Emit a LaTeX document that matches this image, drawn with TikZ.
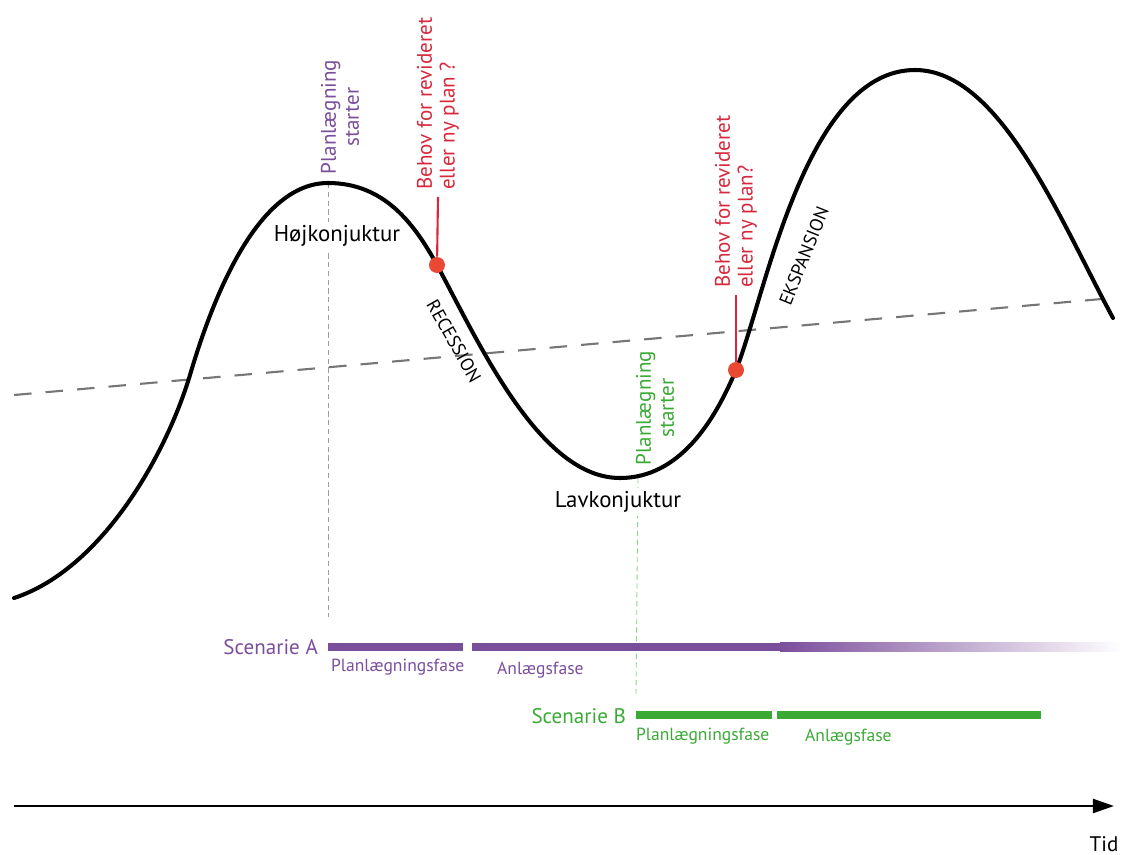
\documentclass[tikz,border=0pt]{standalone}
\usepackage{fontspec}
\setmainfont{PT Sans}
\usetikzlibrary{arrows.meta,positioning}
\definecolor{lilla}{RGB}{123,78,156}
\definecolor{groen}{RGB}{58,170,53}
\definecolor{roed}{RGB}{215,40,60}
\definecolor{prik}{RGB}{232,72,52}
\definecolor{graa}{RGB}{118,118,118}

\begin{document}
\begin{tikzpicture}[
    x=0.02cm, y=-0.02cm,
    every node/.style={font=\fontsize{12}{14}\selectfont, inner sep=1pt},
    fase/.style={font=\fontsize{10}{12}\selectfont},
    konj/.style={font=\fontsize{13}{15}\selectfont, fill=white, inner sep=2pt},
    lodret/.style={rotate=90, align=center, font=\fontsize{12}{13}\selectfont},
    behov/.style={rotate=90, align=left, anchor=west, text=roed, font=\fontsize{12}{13}\selectfont},
    skraa/.style={font=\fontsize{10.5}{12}\selectfont},
    dot/.style={circle, fill=prik, minimum size=0.32cm, inner sep=0pt},
    barA/.style={lilla, line width=4.6pt},
    barB/.style={groen, line width=4.6pt},
    hjaelp/.style={dash pattern=on 3pt off 2pt, line width=0.5pt}
]
\useasboundingbox (0,0) rectangle (1127,855);

% trend
\draw[graa, line width=1.2pt, dash pattern=on 10pt off 8pt] (14,395) -- (1113,298);

% lodrette hjaelpelinjer
\coordinate (startA) at (328,647);
\coordinate (startB) at (636,715);
\draw[hjaelp, lilla!40!gray!70] (328,183) -- ([yshift=0.6cm]startA);
\draw[hjaelp, groen!55] (638,478) -- ([yshift=0.35cm]startB);

% konjunkturkurve
\draw[line width=2.3pt, line cap=round]
  (14,598) .. controls (100,570) and (165,458) .. (190,375)
  .. controls (215,290) and (260,183) .. (328,183)
  .. controls (385,183) and (415,225) .. (437,265)
  .. controls (480,345) and (540,478) .. (620,478)
  .. controls (680,478) and (715,420) .. (736,370)
  .. controls (765,298) and (805,70) .. (915,70)
  .. controls (1000,70) and (1060,220) .. (1113,318);

\node[konj] (hoej) at (337,236) {Højkonjuktur};
\node[konj] (lav) at (618,502) {Lavkonjuktur};
\node[skraa, rotate=-60.5] (recession) at (454,341) {RECESSION};
\node[skraa, rotate=68] (ekspansion) at (804,256) {EKSPANSION};

% planlaegning starter
\node[lodret, text=lilla] (planA) at (340,117) {Planlægning\\starter};
\node[lodret, text=groen] (planB) at (655,408) {Planlægning\\starter};

% behov for revision
\node[dot] (dot1) at (437,265) {};
\node[dot] (dot2) at (736,370) {};
\node[behov] (behov1) at (438,192) {Behov for revideret\\eller ny plan ?};
\node[behov] (behov2) at (736,290) {Behov for revideret\\eller ny plan?};
\draw[roed, line width=1.2pt] ([yshift=-0.1cm]behov1.west) -- (dot1);
\draw[roed, line width=1.2pt] ([yshift=-0.1cm]behov2.west) -- (dot2);

% scenarie A
\node[anchor=east, text=lilla] (scenA) at (320,647) {Scenarie A};
\draw[barA] (startA) -- (463,647);
\draw[barA] (472,647) -- (782,647);
\shade[left color=lilla, right color=white] (780,642.5) rectangle (1122,651.5);
\node[fase, anchor=west, text=lilla] (planfaseA) at (329,667) {Planlægningsfase};
\node[fase, anchor=west, text=lilla] (anlaegA) at (495,670) {Anlægsfase};

% scenarie B
\node[anchor=east, text=groen] (scenB) at (628,716) {Scenarie B};
\draw[barB] (startB) -- (772,715);
\draw[barB] (777,715) -- (1041,715);
\node[fase, anchor=west, text=groen] (planfaseB) at (634,736) {Planlægningsfase};
\node[fase, anchor=west, text=groen] (anlaegB) at (803,737) {Anlægsfase};

% tidsakse
\coordinate (t0) at (14,806);
\coordinate (t1) at (1114,806);
\draw[line width=1.2pt, -{Triangle[length=12pt, width=8pt]}] (t0) -- (t1);
\node (tid) at (1104,844) {Tid};
\end{tikzpicture}
\end{document}
